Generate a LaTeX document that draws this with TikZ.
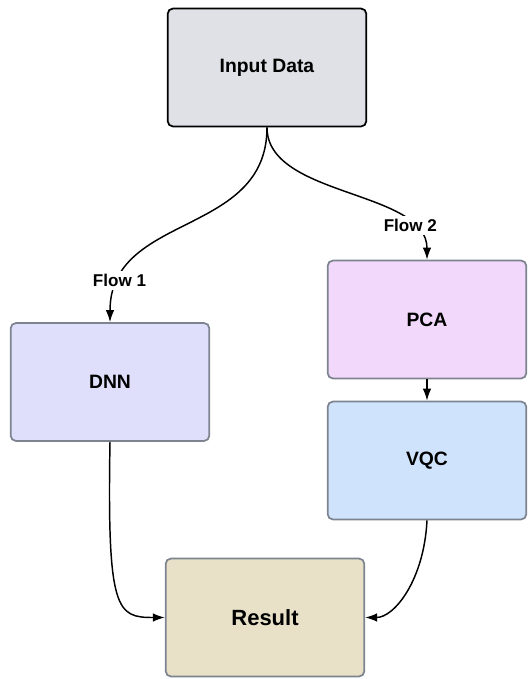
\documentclass[tikz,border=0pt]{standalone}
\usepackage{fontspec}
\setmainfont{Liberation Sans}
\usepackage{xcolor}
\usetikzlibrary{arrows.meta,positioning}
\definecolor{boxline}{HTML}{7D848F}
\definecolor{inputfill}{HTML}{DFE1E6}
\definecolor{dnnfill}{HTML}{DFDFFC}
\definecolor{pcafill}{HTML}{F2D8FA}
\definecolor{vqcfill}{HTML}{D0E3FC}
\definecolor{resultfill}{HTML}{E8E1C7}

\begin{document}
\begin{tikzpicture}[x=0.75pt,y=-0.75pt,>={Latex[length=9pt,width=6.5pt]},
  box/.style={draw=boxline,line width=1.3pt,rounded corners=4pt,align=center,
    minimum width=149pt,minimum height=88.5pt,font=\fontsize{14.5}{17}\selectfont\bfseries},
  flow/.style={fill=white,inner sep=2.5pt,font=\fontsize{12.8}{15}\selectfont\bfseries}]
  \useasboundingbox (0,0) rectangle (528,679);
  \node[box,draw=black,fill=inputfill] (input)  at (267,67.5)  {Input Data};
  \node[box,fill=dnnfill]              (dnn)    at (110,382)   {DNN};
  \node[box,fill=pcafill]              (pca)    at (427,319.5) {PCA};
  \node[box,fill=vqcfill]              (vqc)    at (427,460.5) {VQC};
  \node[box,fill=resultfill,font=\fontsize{16.5}{19}\selectfont\bfseries]
                                       (result) at (265,617.5) {Result};
  \draw[->,line width=1.1pt] (input.south) .. controls +(0,110) and +(0,-110) ..
    node[flow,pos=0.85] {Flow 1} (dnn.north);
  \draw[->,line width=1.1pt] (input.south) .. controls +(0,70) and +(0,-70) ..
    node[flow,pos=0.8] {Flow 2} (pca.north);
  \draw[->,line width=1.1pt] (pca) -- (vqc);
  \draw[->,line width=1.1pt] (dnn.south) .. controls +(-3,170) and +(-48,0) .. (result.west);
  \draw[->,line width=1.1pt] (vqc.south) .. controls +(-3,60) and +(29,0) .. (result.east);
\end{tikzpicture}
\end{document}
